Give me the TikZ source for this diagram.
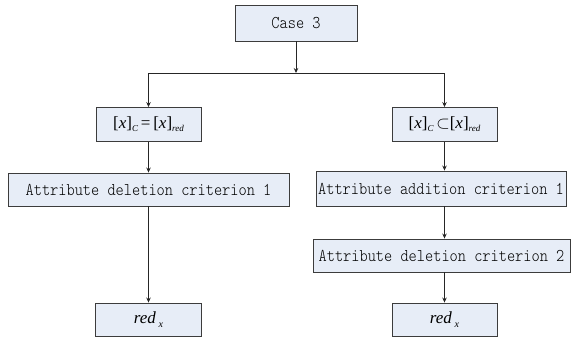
\documentclass[tikz,border=0pt]{standalone}
\usetikzlibrary{arrows.meta}
\usepackage{fontspec}
\usepackage{graphicx}
\newfontfamily\tnr{Liberation Serif}
\definecolor{boxfill}{RGB}{231,237,247}
\definecolor{boxline}{RGB}{60,60,60}
\newcommand{\tx}[1]{\scalebox{1}[1.15]{#1}}
\newcommand{\sbs}[1]{\raisebox{-0.35ex}{\fontsize{9}{10}\selectfont\itshape #1}}
\tikzset{
  flowbox/.style={draw=boxline, fill=boxfill, line width=0.9pt, rectangle, inner sep=0pt,
    font=\fontsize{15.6}{17}\fontseries{l}\ttfamily\selectfont},
  mathbox/.style={flowbox, font=\fontsize{17}{19}\tnr\selectfont},
  conn/.style={line width=0.9pt, draw=black!85},
  arr/.style={conn, -{Stealth[length=5pt,width=4.5pt]}}
}
\begin{document}
\begin{tikzpicture}[x=1pt,y=-1pt]
\useasboundingbox (0,0) rectangle (572,338);
\node[flowbox, minimum width=122pt, minimum height=36pt] (case) at (296,23) {\tx{Case 3}};
\node[mathbox, minimum width=105pt, minimum height=34pt] (eqL) at (148.5,124.5) {[\textit{x}]\sbs{C}\,=\,[\textit{x}]\sbs{red}};
\node[mathbox, minimum width=105pt, minimum height=34pt] (eqR) at (444.5,124.5) {[\textit{x}]\sbs{C}\,$\subset$[\textit{x}]\sbs{red}};
\node[flowbox, minimum width=281pt, minimum height=33pt] (del1) at (148.5,189.5) {\tx{Attribute deletion criterion 1}};
\node[flowbox, minimum width=250pt, minimum height=35pt] (add1) at (441,188.5) {\tx{Attribute addition criterion 1}};
\node[flowbox, minimum width=257pt, minimum height=33pt] (del2) at (441.5,255.5) {\tx{Attribute deletion criterion 2}};
\node[mathbox, minimum width=106pt, minimum height=33pt] (redL) at (148.5,319.5) {\textit{red}\,\raisebox{-0.6ex}{\fontsize{10}{11}\selectfont\itshape x}};
\node[mathbox, minimum width=105pt, minimum height=33pt] (redR) at (444.5,319.5) {\textit{red}\,\raisebox{-0.6ex}{\fontsize{10}{11}\selectfont\itshape x}};
\coordinate (j) at (296,73);
\coordinate (jl) at (148.5,73);
\coordinate (jr) at (444.5,73);
\draw[arr] (case) -- (j);
\draw[conn] (jl) -- (jr);
\draw[arr] (jl) -- (eqL);
\draw[arr] (jr) -- (eqR);
\draw[arr] (eqL) -- (del1);
\draw[arr] (del1) -- (redL);
\draw[arr] (eqR.south) -- (eqR.south |- add1.north);
\draw[arr] (eqR.south |- add1.south) -- (eqR.south |- del2.north);
\draw[arr] (eqR.south |- del2.south) -- (redR);
\end{tikzpicture}
\end{document}
